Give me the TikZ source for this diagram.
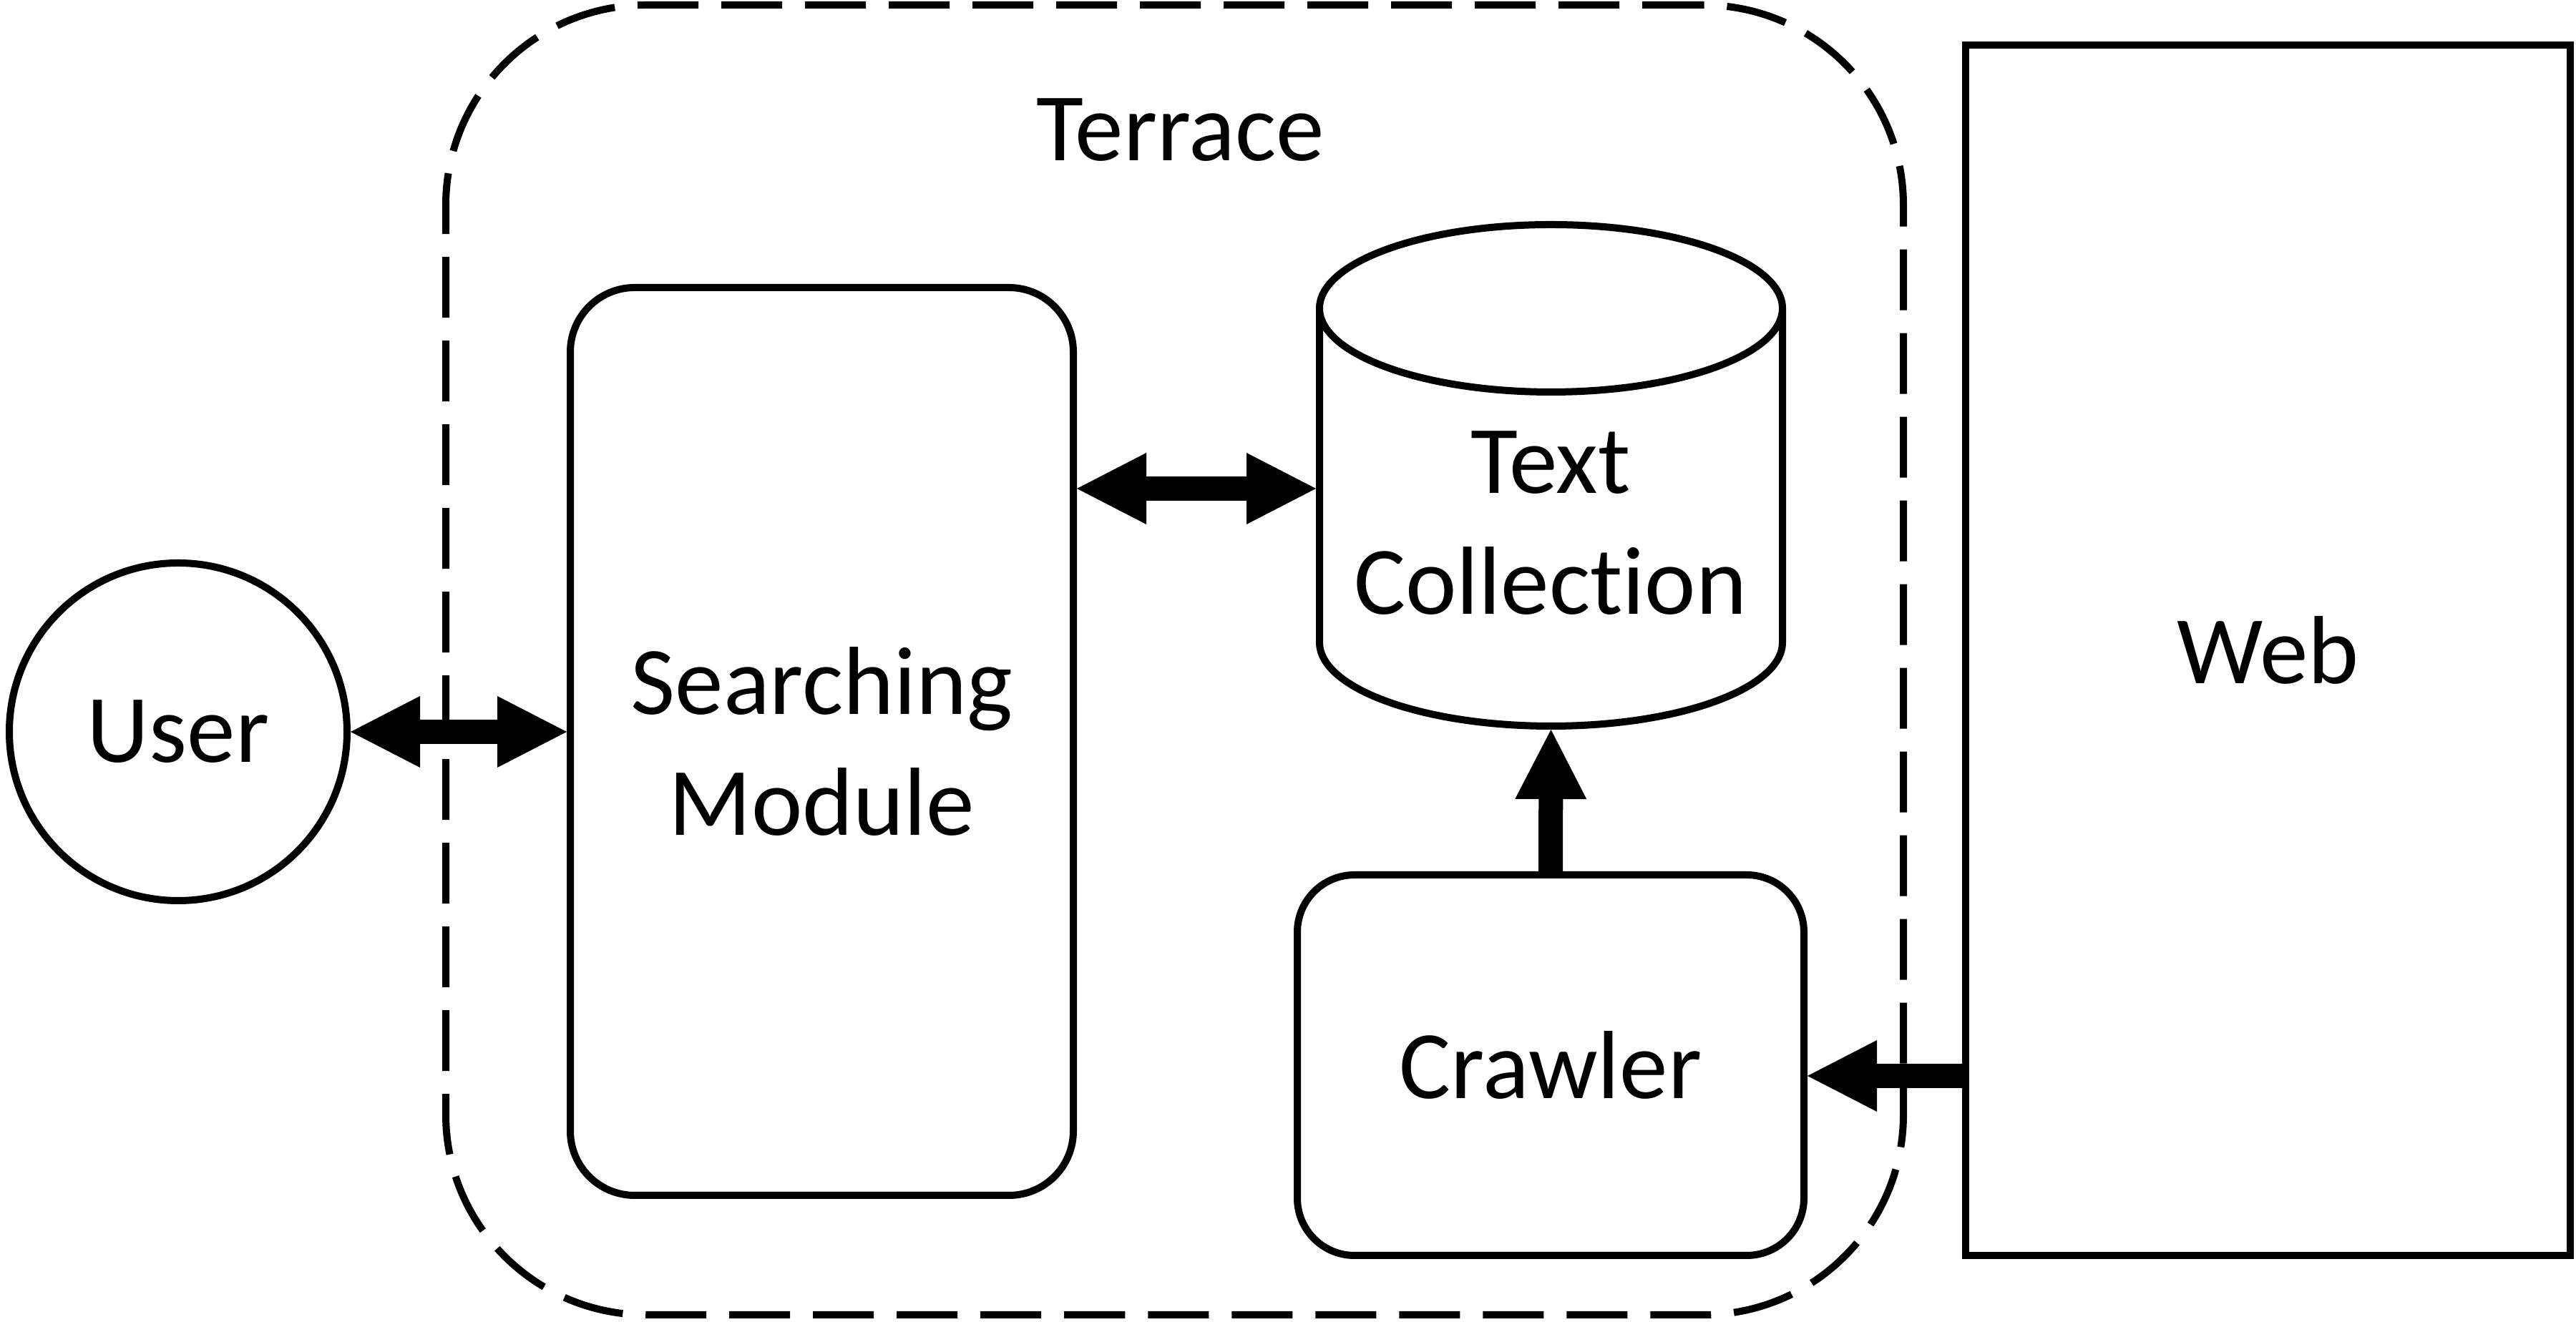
\documentclass[tikz,border=0pt]{standalone}
\usepackage{fontspec}
\setmainfont{Carlito}[Ligatures=NoCommon]
\usetikzlibrary{calc,arrows.meta}
\newcommand{\diagfont}{\fontsize{38.5}{48}\selectfont}
\tikzset{
    module/.style={rectangle, draw, line width=1mm, rounded corners=9mm, inner sep=0pt, align=center, font=\diagfont},
    actor/.style={circle, draw, line width=1mm, inner sep=0pt, font=\diagfont},
    store/.style={rectangle, line width=1mm, inner sep=0pt},
    group/.style={rectangle, draw, line width=1mm, dash pattern=on 8.5mm off 3.2mm, rounded corners=28mm},
    txt/.style={inner sep=0pt, align=center, font=\diagfont},
    edge/.style={draw, line width=3.4mm, -{Triangle[length=9.7mm, width=10mm, line width=0pt]}},
    biedge/.style={draw, line width=3.4mm, {Triangle[length=9.7mm, width=10mm, line width=0pt]}-{Triangle[length=9.7mm, width=10mm, line width=0pt]}}
}
\begin{document}
\begin{tikzpicture}
    \useasboundingbox (0,0) rectangle (36,18.48);
    % Nodes
    \node[group, minimum width=20.37cm, minimum height=18.31cm] (terrace) at (16.415,9.255) {};
    \node[txt, anchor=base] (title) at (16.5,16.23) {Terrace};
    \node[actor, minimum size=4.72cm] (user) at (2.49,8.25) {User};
    \node[module, minimum width=7.03cm, minimum height=12.69cm] (search) at (11.485,8.115) {Searching\\Module};
    \node[store, minimum width=6.47cm, minimum height=7.01cm] (coll) at (21.675,11.835) {};
    \node[txt] (colltext) at (21.67,11.17) {Text\\Collection};
    \node[module, rounded corners=8mm, minimum width=7.08cm, minimum height=5.32cm] (crawler) at (21.67,3.59) {Crawler};
    \node[rectangle, draw, line width=1mm, minimum width=8.45cm, minimum height=16.92cm, font=\diagfont] (web) at (31.695,9.39) {Web};

    % cylinder of the text collection
    \draw[line width=1mm] ($(coll.north west)+(0.05,-1.22)$) -- ($(coll.south west)+(0.05,1.22)$)
        arc[start angle=180, end angle=360, x radius=3.235, y radius=1.17]
        -- ($(coll.north east)+(-0.05,-1.22)$)
        arc[start angle=0, end angle=180, x radius=3.235, y radius=1.17]
        arc[start angle=180, end angle=360, x radius=3.235, y radius=1.17];

    % edges
    \draw[biedge] (user.east) -- (user.east -| search.west);
    \draw[biedge] ($(search.east |- coll.west)+(0,-0.185)$) -- ($(coll.west)+(0,-0.185)$);
    \draw[edge] (crawler.north) -- (coll.south);
    \draw[edge] ($(web.west |- crawler.east)+(0,-0.15)$) -- ($(crawler.east)+(0,-0.15)$);
\end{tikzpicture}
\end{document}
